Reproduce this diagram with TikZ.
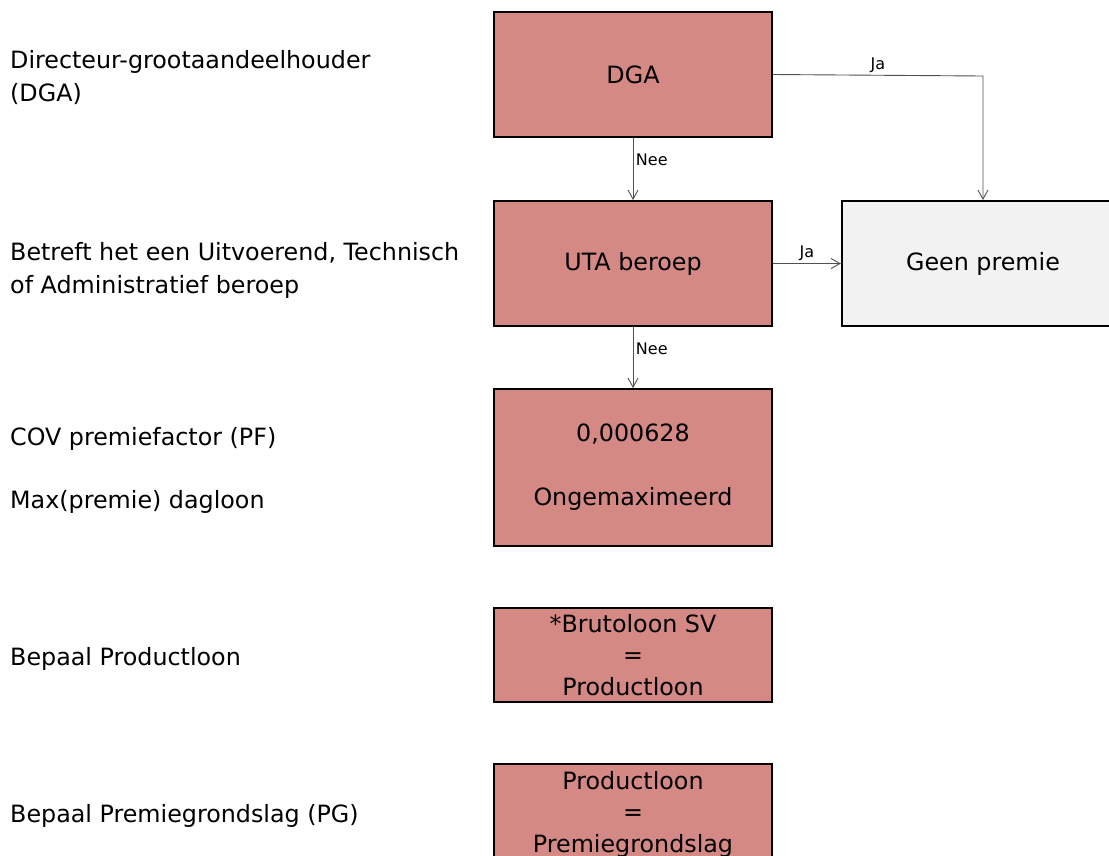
\documentclass[tikz,border=0pt]{standalone}
\usepackage{fontspec}
\setmainfont{DejaVu Sans}
\usetikzlibrary{arrows.meta}
\definecolor{boxred}{RGB}{212,137,132}
\definecolor{boxgray}{RGB}{242,242,242}
\definecolor{arrgray}{RGB}{80,80,80}
\tikzset{
  flowbox/.style={draw=black, line width=2pt, fill=boxred, minimum width=278pt, inner sep=0pt, align=center, font=\fontsize{23.8}{31.5}\selectfont},
  sidelabel/.style={anchor=base west, inner sep=0pt, font=\fontsize{23.8}{31.5}\selectfont},
  arr/.style={draw=arrgray, line width=0.9pt, -{Straight Barb[length=9pt,width=10pt]}},
  arrlabel/.style={font=\fontsize{16}{18}\selectfont, inner sep=2.5pt}
}
\begin{document}
\begin{tikzpicture}[x=1pt,y=-1pt]
\useasboundingbox (0,0) rectangle (1109,855);
% boxes
\node[flowbox, minimum height=125pt] (dga) at (633,74.5) {DGA};
\node[flowbox, minimum height=125pt] (uta) at (633,263.5) {UTA beroep};
\node[flowbox, fill=boxgray, minimum width=282pt, minimum height=125pt] (geen) at (983,263.5) {Geen premie};
\node[flowbox, minimum height=157pt] (cov) at (633,467.5) {0,000628\\[32.5pt]Ongemaximeerd};
\node[flowbox, minimum height=94pt] (bruto) at (633,655) {*Brutoloon SV\\=\\Productloon};
\node[flowbox, minimum height=100pt] (pg) at (633,814) {Productloon\\=\\Premiegrondslag};
% side labels
\node[sidelabel] (l1a) at (10,68) {Directeur-grootaandeelhouder};
\node[sidelabel] (l1b) at (10,101) {(DGA)};
\node[sidelabel] (l2a) at (10,260) {Betreft het een Uitvoerend, Technisch};
\node[sidelabel] (l2b) at (10,293) {of Administratief beroep};
\node[sidelabel] (l3) at (10,445) {COV premiefactor (PF)};
\node[sidelabel] (l4) at (10,508) {Max(premie) dagloon};
\node[sidelabel] (l5) at (10,665) {Bepaal Productloon};
\node[sidelabel] (l6) at (10,822) {Bepaal Premiegrondslag (PG)};
% connectors
\coordinate (knik) at (983,76);
\draw[arr] (dga.south) -- node[arrlabel, right, pos=0.35] (n1) {Nee} (uta.north);
\draw[arr] (uta.south) -- node[arrlabel, right, pos=0.35] (n2) {Nee} (cov.north);
\draw[arr] (dga.east) -- node[arrlabel, above, pos=0.5] (j1) {Ja} (knik) -- (knik |- geen.north);
\draw[arr] (uta.east) -- node[arrlabel, above, pos=0.5] (j2) {Ja} (geen.west);
\end{tikzpicture}
\end{document}
